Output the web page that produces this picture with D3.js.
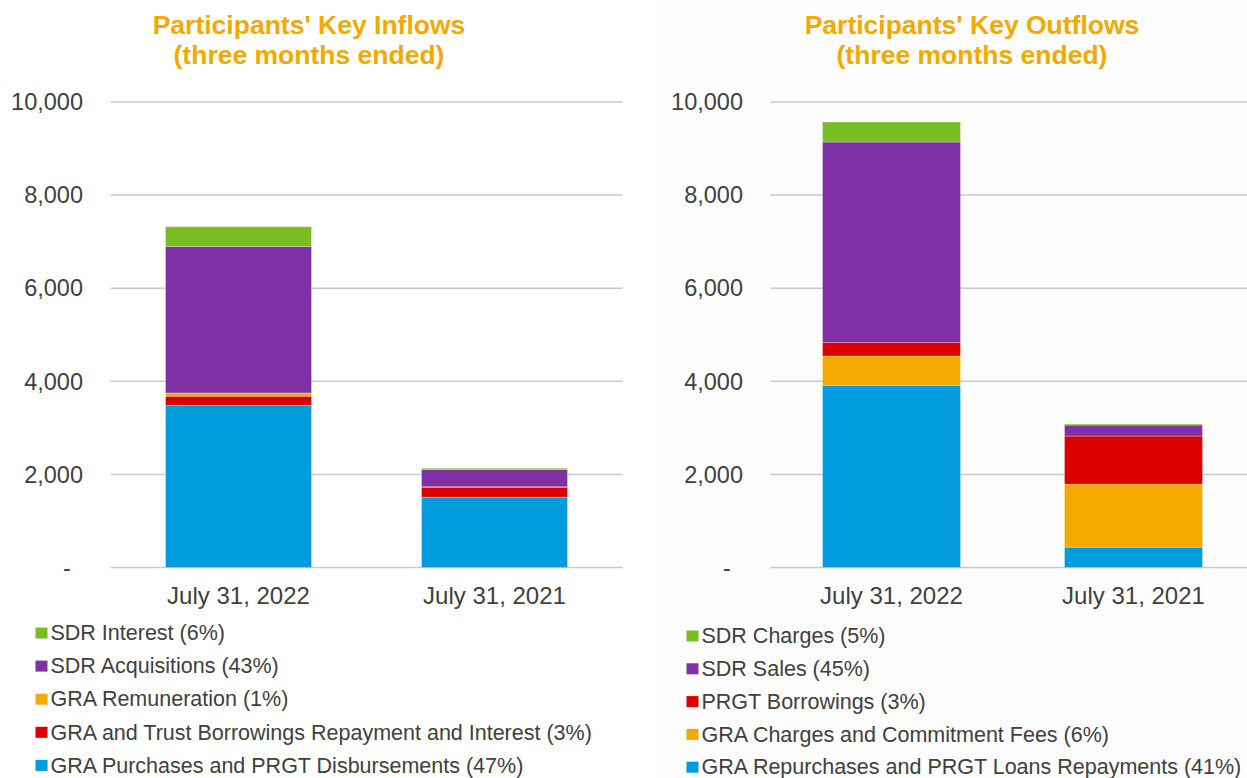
<!DOCTYPE html>
<html>
<head>
<meta charset="utf-8">
<script src="https://cdn.jsdelivr.net/npm/d3@7"></script>
<style>
  body { margin: 0; background: #fff; }
  svg { display: block; font-family: "Liberation Sans", Arial, sans-serif; }
</style>
</head>
<body>
<svg width="1247" height="778"></svg>
<script>
// Data (values in SDR millions, roughly)
const categories = ["July 31, 2022", "July 31, 2021"];
const yTicks = [0, 2000, 4000, 6000, 8000, 10000];

// inflows, stacked bottom -> top
const inflowSeries = [
  "GRA Purchases and PRGT Disbursements (47%)",
  "GRA and Trust Borrowings Repayment and Interest (3%)",
  "GRA Remuneration (1%)",
  "SDR Acquisitions (43%)",
  "SDR Interest (6%)"
];
const inflowColors = ["#009cde", "#da0000", "#f2a900", "#7f30a4", "#78be20"];
const inflow2022 = [3480, 200, 70, 3146, 424];
const inflow2021 = [1510, 215, 10, 372, 25];

// outflows, stacked bottom -> top
const outflowSeries = [
  "GRA Repurchases and PRGT Loans Repayments (41%)",
  "GRA Charges and Commitment Fees (6%)",
  "PRGT Borrowings (3%)",
  "SDR Sales (45%)",
  "SDR Charges (5%)"
];
const outflowColors = ["#009cde", "#f2a900", "#da0000", "#7f30a4", "#78be20"];
const outflow2022 = [3914, 630, 288, 4308, 430];
const outflow2021 = [437, 1354, 1033, 236, 22];

const svg = d3.select("svg");

// very faint panel behind the right chart
svg.append("rect")
  .attr("x", 657).attr("y", 0)
  .attr("width", 590).attr("height", 778)
  .attr("fill", "#fdfdfd");

function drawPanel(opts) {
  const g = svg.append("g");

  const x = d3.scaleBand()
    .domain(categories)
    .range([opts.x0, opts.x1])
    .paddingInner(0.43)
    .paddingOuter(0.215);

  const y = d3.scaleLinear().domain([0, 10000]).range([567.5, 102]);

  // title
  g.append("text")
    .attr("x", opts.titleX)
    .attr("y", 34)
    .attr("text-anchor", "middle")
    .attr("font-size", 26.5)
    .attr("font-weight", "bold")
    .attr("fill", "#f2a900")
    .selectAll("tspan")
    .data(opts.title)
    .join("tspan")
    .attr("x", opts.titleX)
    .attr("dy", (d, i) => (i === 0 ? 0 : 30))
    .text((d) => d);

  // gridlines
  g.append("g")
    .selectAll("line")
    .data(yTicks)
    .join("line")
    .attr("x1", opts.x0)
    .attr("x2", opts.x1)
    .attr("y1", (d) => y(d))
    .attr("y2", (d) => y(d))
    .attr("stroke", "#c9c9c9")
    .attr("stroke-width", 1.5);

  // y tick labels
  g.append("g")
    .selectAll("text")
    .data(yTicks)
    .join("text")
    .attr("x", (d) => (d === 0 ? opts.tickX - 16 : opts.tickX))
    .attr("y", (d) => y(d))
    .attr("dy", "0.35em")
    .attr("text-anchor", (d) => (d === 0 ? "middle" : "end"))
    .attr("font-size", 23.5)
    .attr("fill", "#404040")
    .text((d) => (d === 0 ? "-" : d3.format(",")(d)));

  // stacked bars
  const rows = categories.map((c, i) => {
    const row = { cat: c };
    opts.series.forEach((s, j) => (row[s] = opts.values[i][j]));
    return row;
  });
  const stacked = d3.stack().keys(opts.series)(rows);

  g.append("g")
    .selectAll("g")
    .data(stacked)
    .join("g")
    .attr("fill", (d, i) => opts.colors[i])
    .selectAll("rect")
    .data((d) => d)
    .join("rect")
    .attr("x", (d) => x(d.data.cat))
    .attr("width", x.bandwidth())
    .attr("y", (d) => y(d[1]))
    .attr("height", (d) => y(d[0]) - y(d[1]))
    .attr("stroke", "#ffffff")
    .attr("stroke-opacity", 0.35)
    .attr("stroke-width", 0.75);

  // category labels
  g.append("g")
    .selectAll("text")
    .data(categories)
    .join("text")
    .attr("x", (d) => x(d) + x.bandwidth() / 2)
    .attr("y", 604)
    .attr("text-anchor", "middle")
    .attr("font-size", 24)
    .attr("fill", "#404040")
    .text((d) => d);

  // legend, listed top -> bottom (reverse of stack)
  const legendItems = opts.series
    .map((s, i) => ({ name: s, color: opts.colors[i] }))
    .reverse();

  const leg = g.append("g")
    .selectAll("g")
    .data(legendItems)
    .join("g")
    .attr("transform", (d, i) =>
      `translate(${opts.legendX},${opts.legendY + i * opts.legendStep})`);

  leg.append("rect")
    .attr("x", 0)
    .attr("y", -5)
    .attr("width", 12)
    .attr("height", 11)
    .attr("fill", (d) => d.color);

  leg.append("text")
    .attr("x", 15)
    .attr("y", 0)
    .attr("dy", "0.36em")
    .attr("font-size", 21.5)
    .attr("fill", "#404040")
    .text((d) => d.name);
}

drawPanel({
  title: ["Participants' Key Inflows", "(three months ended)"],
  titleX: 309,
  x0: 110.5,
  x1: 622.5,
  tickX: 83,
  series: inflowSeries,
  colors: inflowColors,
  values: [inflow2022, inflow2021],
  legendX: 35.5,
  legendY: 632.5,
  legendStep: 33.1
});

drawPanel({
  title: ["Participants' Key Outflows", "(three months ended)"],
  titleX: 972,
  x0: 770.5,
  x1: 1254.5,
  tickX: 743,
  series: outflowSeries,
  colors: outflowColors,
  values: [outflow2022, outflow2021],
  legendX: 686.5,
  legendY: 635.5,
  legendStep: 32.8
});
</script>
</body>
</html>
